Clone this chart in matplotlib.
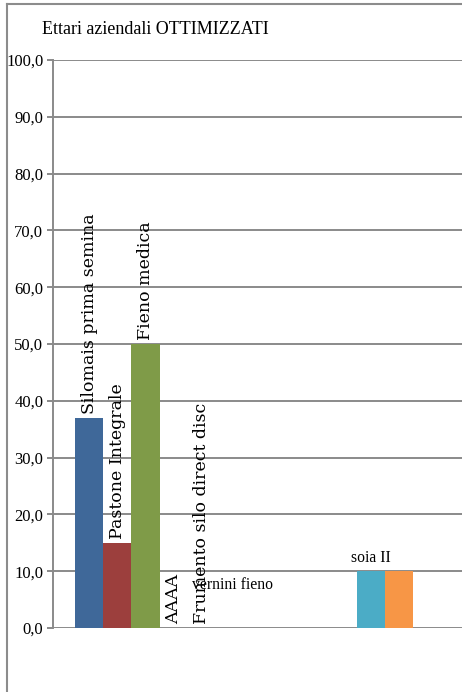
import matplotlib
matplotlib.use("Agg")
import matplotlib.pyplot as plt
from matplotlib.lines import Line2D

# Hectares per crop, one series per bar
series = ["Silomais prima semina", "Pastone Integrale", "Fieno medica", "AAAA",
          "Frumento silo direct disc", "vernini fieno", "", "", "", "",
          "soia II", ""]
values = [37.0, 15.0, 50.0, 0.0, 0.0, 0.0, 0.0, 0.0, 0.0, 0.0, 10.0, 10.0]
colors = ["#3F6899", "#9C3F3D", "#7F9B48", "#7B619C", "#4BACC6", "#F79646",
          "#2C4D75", "#772C2A", "#5F7530", "#4D3B62", "#4BACC6", "#F79646"]
yticks = [0, 10, 20, 30, 40, 50, 60, 70, 80, 90, 100]
title = "Ettari aziendali OTTIMIZZATI"

# label styling per bar: rotation and vertical offset in points
label_rot = [90, 90, 90, 90, 90, 0, 0, 0, 0, 0, 0, 0]
label_off = [3, 3, 3, 3, 3, 31, 3, 3, 3, 3, 4, 3]
label_va = ["bottom"] * 5 + ["center"] + ["bottom"] * 6

W, H = 462, 692
fig = plt.figure(figsize=(W / 100, H / 100), dpi=100)
fig.patch.set_facecolor("white")

# outer chart border (top and left edges)
border_c = "#8C8C8C"
fig.add_artist(Line2D([7 / W, 1.05], [(H - 4) / H] * 2, transform=fig.transFigure,
                      color=border_c, linewidth=1.5))
fig.add_artist(Line2D([7 / W] * 2, [-0.05, (H - 4) / H], transform=fig.transFigure,
                      color=border_c, linewidth=1.5))

ax = fig.add_axes([53 / W, (H - 628) / H, (W - 53) / W, (628 - 60) / H])
grid_c = "#8A8A8A"

x = list(range(len(values)))
ax.bar(x, values, width=1.0, color=colors, align="center", zorder=3)

ax.set_xlim(-1.28, 13.22)
ax.set_ylim(0, 100)
ax.set_yticks(yticks)
ax.set_yticklabels([f"{v:.1f}".replace(".", ",") for v in yticks],
                   fontfamily="Liberation Serif", fontsize=12)
ax.set_xticks([])
ax.yaxis.grid(True, color=grid_c, linewidth=1.4, zorder=0)
ax.set_axisbelow(True)
ax.tick_params(axis="y", length=4, width=1.4, color=grid_c, pad=3,
               labelcolor="black")
for s in ["top", "right", "bottom"]:
    ax.spines[s].set_visible(False)
ax.spines["left"].set_color(grid_c)
ax.spines["left"].set_linewidth(1.4)
ax.spines["left"].set_zorder(4)

for xi, v, name, rot, off, va in zip(x, values, series, label_rot, label_off, label_va):
    if not name:
        continue
    if rot:
        ax.annotate(name, (xi, v), xytext=(0, off), textcoords="offset points",
                    rotation=90, ha="center", va="bottom",
                    fontfamily="DejaVu Serif", fontsize=12.5, zorder=5)
    else:
        ax.annotate(name, (xi, v), xytext=(2 if xi == 5 else 0, off),
                    textcoords="offset points",
                    ha="center", va=va, fontfamily="Liberation Serif",
                    fontsize=11.3, zorder=5)

fig.text(42 / W, 1 - 30 / H, title, fontfamily="Liberation Serif",
         fontsize=13, ha="left", va="center")

fig.savefig("out.png", dpi=100)
